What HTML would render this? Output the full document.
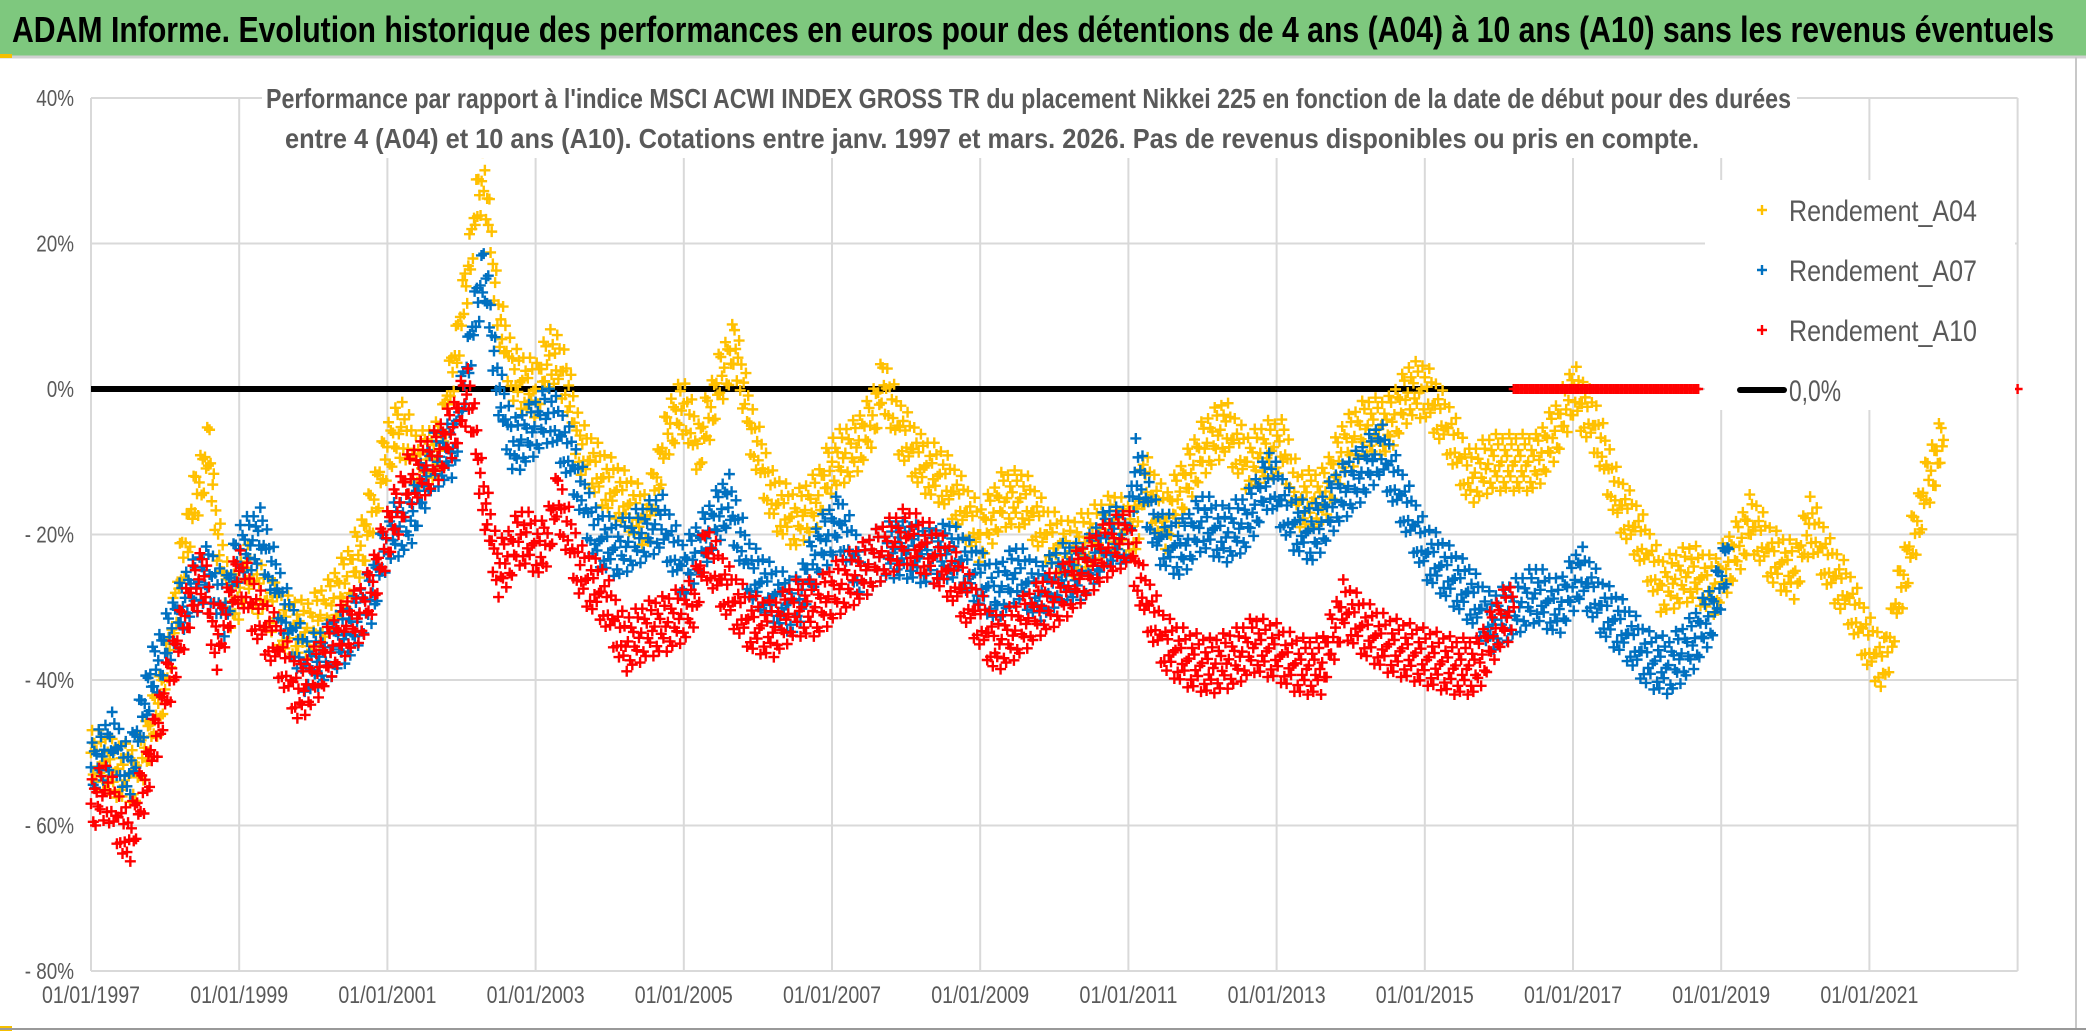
<!DOCTYPE html>
<html><head><meta charset="utf-8"><style>
html,body{margin:0;padding:0;background:#fff;}
svg{display:block;font-family:"Liberation Sans",sans-serif;}
</style></head><body>
<svg id="chart" width="2086" height="1031" viewBox="0 0 2086 1031">
<rect x="0" y="0" width="2086" height="1031" fill="#fff"/>
<rect x="0" y="0" width="2086" height="56" fill="#7ec87e"/>
<line x1="0" y1="57" x2="2086" y2="57" stroke="#d0d0d0" stroke-width="3"/>
<rect x="0" y="54" width="12" height="4" fill="#f5c000"/>
<rect x="0" y="1026" width="12" height="5" fill="#f5c000"/>
<line x1="0" y1="1029" x2="2086" y2="1029" stroke="#999" stroke-width="2"/>
<line x1="2076" y1="57" x2="2076" y2="1028" stroke="#c8c8c8" stroke-width="2"/>
<text x="12" y="42" font-size="36" font-weight="bold" fill="#000" textLength="2042" lengthAdjust="spacingAndGlyphs">ADAM Informe. Evolution historique des performances en euros pour des détentions de 4 ans (A04) à 10 ans (A10) sans les revenus éventuels</text>
<g id="grid"></g>
<g id="points"></g>
<g id="axes"></g>
<rect x="262" y="74" width="1535" height="84" fill="#fff"/>
<text x="266" y="108" font-size="28" font-weight="bold" fill="#595959" textLength="1525" lengthAdjust="spacingAndGlyphs">Performance par rapport à l'indice MSCI ACWI INDEX GROSS TR  du placement Nikkei 225 en fonction de la date de début pour des durées</text>
<text x="285" y="148" font-size="28" font-weight="bold" fill="#595959" textLength="1414" lengthAdjust="spacingAndGlyphs">entre 4 (A04) et 10 ans (A10). Cotations entre janv. 1997 et mars. 2026. Pas de revenus disponibles ou pris en compte.</text>
<g id="legend"></g>
</svg>
<script>
const yTicks=[40,20,0,-20,-40,-60,-80];
const yTickLabels=["40%","20%","0%","- 20%","- 40%","- 60%","- 80%"];
const xTickYears=[1997,1999,2001,2003,2005,2007,2009,2011,2013,2015,2017,2019,2021];
const xTickLabels=["01/01/1997","01/01/1999","01/01/2001","01/01/2003","01/01/2005","01/01/2007","01/01/2009","01/01/2011","01/01/2013","01/01/2015","01/01/2017","01/01/2019","01/01/2021"];
const a04Dates=[1997.0,1997.3,1997.6,1997.8,1998.0,1998.2,1998.4,1998.6,1998.7,1998.9,1999.1,1999.3,1999.6,1999.9,2000.2,2000.5,2000.7,2001.0,2001.2,2001.4,2001.7,2002.0,2002.2,2002.3,2002.5,2002.7,2003.0,2003.2,2003.4,2003.6,2003.9,2004.2,2004.5,2004.8,2005.0,2005.2,2005.5,2005.7,2005.9,2006.2,2006.5,2006.8,2007.0,2007.3,2007.5,2007.7,2007.9,2008.2,2008.5,2008.7,2009.0,2009.3,2009.6,2009.9,2010.2,2010.5,2010.8,2011.1,2011.2,2011.5,2011.8,2012.0,2012.3,2012.6,2012.9,2013.1,2013.3,2013.6,2013.9,2014.2,2014.5,2014.8,2015.0,2015.3,2015.6,2015.9,2016.2,2016.5,2016.8,2017.0,2017.3,2017.6,2017.9,2018.2,2018.6,2018.9,2019.2,2019.4,2019.7,2020.0,2020.2,2020.5,2020.7,2021.0,2021.2,2021.4,2021.6,2021.8,2022.0];
const a04Values=[-50,-52,-53,-47,-40,-25,-15,-8,-20,-30,-25,-28,-32,-33,-30,-25,-20,-8,-5,-10,-8,10,25,30,10,2,0,5,2,-8,-12,-15,-18,-5,-2,-8,2,6,-5,-15,-18,-15,-10,-8,-5,1,-5,-10,-12,-15,-20,-15,-15,-20,-22,-20,-18,-20,-12,-18,-12,-8,-5,-10,-8,-8,-15,-15,-8,-5,-5,0,0,-5,-12,-10,-10,-10,-5,0,-5,-15,-20,-27,-25,-27,-22,-18,-23,-25,-18,-25,-28,-35,-38,-28,-20,-12,-7];
const a07Dates=[1997.0,1997.3,1997.5,1997.8,1998.0,1998.3,1998.6,1998.8,1999.0,1999.3,1999.6,1999.9,2000.2,2000.5,2000.8,2001.0,2001.3,2001.6,2001.9,2002.1,2002.3,2002.5,2002.7,2003.0,2003.2,2003.5,2003.8,2004.1,2004.4,2004.7,2005.0,2005.3,2005.6,2005.9,2006.2,2006.5,2006.8,2007.1,2007.4,2007.7,2008.0,2008.3,2008.6,2008.9,2009.2,2009.5,2009.8,2010.1,2010.4,2010.7,2011.0,2011.1,2011.4,2011.7,2012.0,2012.3,2012.6,2012.9,2013.2,2013.5,2013.8,2014.1,2014.4,2014.7,2015.0,2015.3,2015.6,2015.9,2016.2,2016.5,2016.8,2017.1,2017.4,2017.7,2018.0,2018.3,2018.6,2018.9,2019.1];
const a07Values=[-52,-48,-53,-40,-35,-28,-25,-30,-22,-20,-30,-38,-36,-33,-28,-20,-18,-10,-8,5,17,0,-8,-5,-3,-10,-20,-22,-20,-18,-25,-20,-15,-25,-28,-30,-22,-18,-25,-22,-22,-23,-22,-25,-28,-25,-28,-25,-25,-20,-20,-10,-20,-22,-18,-20,-18,-12,-18,-20,-15,-12,-8,-15,-22,-25,-28,-32,-30,-28,-30,-25,-30,-33,-37,-38,-35,-30,-22];
const a10Dates=[1997.0,1997.2,1997.5,1997.7,1998.0,1998.3,1998.5,1998.7,1999.0,1999.2,1999.5,1999.8,2000.1,2000.4,2000.7,2001.0,2001.3,2001.6,2001.9,2002.1,2002.3,2002.5,2002.8,2003.1,2003.3,2003.6,2003.9,2004.2,2004.5,2004.8,2005.1,2005.3,2005.6,2005.9,2006.2,2006.5,2006.8,2007.1,2007.4,2007.7,2008.0,2008.3,2008.6,2008.9,2009.2,2009.5,2009.8,2010.1,2010.4,2010.7,2011.0,2011.2,2011.5,2011.8,2012.1,2012.4,2012.7,2013.0,2013.3,2013.6,2013.9,2014.2,2014.5,2014.8,2015.1,2015.4,2015.7,2016.0,2016.2];
const a10Values=[-57,-55,-62,-55,-42,-30,-25,-35,-25,-30,-35,-42,-38,-33,-30,-20,-12,-10,-5,0,-15,-25,-20,-22,-15,-25,-28,-35,-33,-32,-30,-22,-28,-32,-33,-30,-30,-27,-25,-22,-20,-22,-25,-30,-35,-33,-30,-28,-25,-22,-20,-28,-35,-37,-38,-37,-35,-36,-38,-38,-30,-33,-35,-36,-37,-38,-38,-32,-30];
const a10ZeroStart=2016.2, a10ZeroEnd=2018.7, a10Extra=[2023.0,0];

const X0=91, PX_PER_YEAR=74.1, Y_TOP=98, Y_BOT=971;
function xs(t){return X0+(t-1997)*PX_PER_YEAR;}
function ys(v){return Y_TOP+(40-v)/120*(Y_BOT-Y_TOP);}
const NS="http://www.w3.org/2000/svg";
function mk(tag,attrs,parent){const e=document.createElementNS(NS,tag);for(const k in attrs)e.setAttribute(k,attrs[k]);parent.appendChild(e);return e;}
const grid=document.getElementById('grid'), axes=document.getElementById('axes'), pts=document.getElementById('points');
yTicks.forEach((v,i)=>{
  const l=mk('line',{x1:X0,x2:xs(2023),y1:ys(v),y2:ys(v),stroke:'#d9d9d9','stroke-width':2},grid);
  
  
  const t=mk('text',{x:74,y:ys(v)+8,'text-anchor':'end','font-size':23,fill:'#595959',transform:`translate(74 0) scale(0.82 1) translate(-74 0)`},axes);
  t.textContent=yTickLabels[i];
  
  
});
xTickYears.concat([2023]).forEach((yr,i)=>{
  const l=mk('line',{x1:xs(yr),x2:xs(yr),y1:Y_TOP,y2:Y_BOT,stroke:'#d9d9d9','stroke-width':2},grid);
  
  
  if(i<xTickLabels.length){
    const t=mk('text',{x:xs(yr)-49,y:1003,'font-size':24,fill:'#595959',textLength:98,lengthAdjust:'spacingAndGlyphs'},axes);
    t.textContent=xTickLabels[i];
    
    
  }
});
const zl=mk('line',{x1:X0,x2:xs(2016.2),y1:ys(0),y2:ys(0),stroke:'#000','stroke-width':6},grid);


const offs=[0,3.2,-2.8,1.6,-3.6,0.8,-1.3,3.8,-2.0,2.4,-0.5,-4.0];
function cross(g,x,y,c,s){mk('path',{d:`M${x-s} ${y}H${x+s}M${x} ${y-s}V${y+s}`,stroke:c,'stroke-width':2.4},g);}
function series(name,dates,vals,color){
  const g=mk('g',{},pts);
  
  
  let k=0;
  for(let i=0;i<dates.length-1;i++){
    const n=Math.max(2,Math.round((dates[i+1]-dates[i])/0.015));
    for(let j=0;j<n;j++){
      const f=j/n, t=dates[i]+f*(dates[i+1]-dates[i]), v=vals[i]+f*(vals[i+1]-vals[i])+offs[k++%offs.length];
      cross(g,xs(t),ys(v),color,5.5);
    }
  }
  cross(g,xs(dates[dates.length-1]),ys(vals[vals.length-1]),color,5.5);
  return g;
}
series('series-a04',a04Dates,a04Values,'#FFC000');
series('series-a07',a07Dates,a07Values,'#0070C0');
const gr=series('series-a10',a10Dates,a10Values,'#FF0000');
for(let t=a10ZeroStart;t<=a10ZeroEnd;t+=0.03){cross(gr,xs(t),ys(0),'#FF0000',5);}
cross(gr,xs(a10Extra[0]),ys(a10Extra[1]),'#FF0000',5);
const lg=document.getElementById('legend');
mk('rect',{x:1705,y:180,width:310,height:230,fill:'#fff'},lg);
const legNames=["Rendement_A04","Rendement_A07","Rendement_A10"], legColors=['#FFC000','#0070C0','#FF0000'], legY=[210,270,330];
legNames.forEach((n,i)=>{
  cross(lg,1762,legY[i],legColors[i],5);
  const t=mk('text',{x:1789,y:legY[i]+11,'font-size':30,fill:'#595959',textLength:188,lengthAdjust:'spacingAndGlyphs'},lg);
  t.textContent=n;
  
  
});
mk('line',{x1:1740,x2:1784,y1:390,y2:390,stroke:'#000','stroke-width':6,'stroke-linecap':'round'},lg);
const t0=mk('text',{x:1789,y:401,'font-size':30,fill:'#595959',textLength:52,lengthAdjust:'spacingAndGlyphs'},lg);
t0.textContent="0,0%";


</script>
</body></html>
